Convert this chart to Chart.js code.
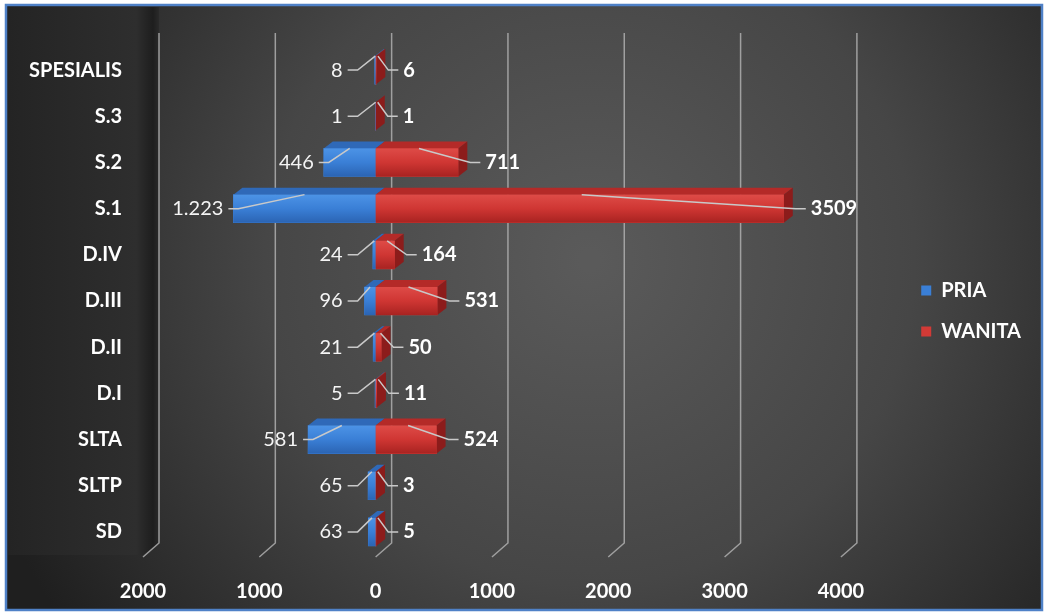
<!DOCTYPE html>
<html>
<head>
<meta charset="utf-8">
<script src="https://cdn.jsdelivr.net/npm/chart.js@4.4.1/dist/chart.umd.min.js"></script>
<style>
    html, body { margin: 0; padding: 0; background: #fff; }
    canvas { display: block; }
</style>
</head>
<body>
<canvas id="eduChart" width="1045" height="613"></canvas>
<script>
// data
const categories = ["SPESIALIS", "S.3", "S.2", "S.1", "D.IV", "D.III", "D.II", "D.I", "SLTA", "SLTP", "SD"];
const priaValues = [8, 1, 446, 1223, 24, 96, 21, 5, 581, 65, 63];
const wanitaValues = [6, 1, 711, 3509, 164, 531, 50, 11, 524, 3, 5];
const tickValues = [-2000, -1000, 0, 1000, 2000, 3000, 4000];
const seriesNames = ["PRIA", "WANITA"];

const DX = 9, DY = 7;       // 3d depth of bars
const WALL_DX = 16, WALL_DY = 12;

const fmtId = v => String(v).replace(/\B(?=(\d{3})+(?!\d))/g, ".");

const backgroundPlugin = {
    id: "panelBg",
    beforeDraw(chart) {
        const c = chart.ctx;
        const W = chart.width, H = chart.height;
        c.save();
        c.fillStyle = "#fff";
        c.fillRect(0, 0, W, H);

        const g = c.createRadialGradient(590, 260, 10, 590, 260, 640);
        g.addColorStop(0, "#5a5a5a");
        g.addColorStop(0.5, "#464646");
        g.addColorStop(1, "#1f1f1f");
        c.fillStyle = g;
        c.fillRect(7, 6, W - 11, H - 10);

        // left side wall
        const xs = chart.scales.x;
        const area = chart.chartArea;
        const wallX = xs.getPixelForValue(tickValues[0]) + WALL_DX;
        const wg = c.createLinearGradient(8, 0, wallX, 0);
        wg.addColorStop(0, "#242424");
        wg.addColorStop(0.85, "#2e2e2e");
        wg.addColorStop(0.96, "#1e1e1e");
        wg.addColorStop(1, "#2a2a2a");
        c.fillStyle = wg;
        c.beginPath();
        c.moveTo(8, 7);
        c.lineTo(wallX, 7);
        c.lineTo(wallX, area.bottom - WALL_DY);
        c.lineTo(wallX - WALL_DX, area.bottom);
        c.lineTo(8, area.bottom);
        c.closePath();
        c.fill();

        c.strokeStyle = "#4f81c7";
        c.lineWidth = 2.5;
        c.strokeRect(6, 5, W - 9, H - 8);
        c.restore();
    }
};

const gridPlugin = {
    id: "wallGrid",
    beforeDatasetsDraw(chart) {
        const c = chart.ctx;
        const xs = chart.scales.x;
        const bottom = chart.chartArea.bottom;
        c.save();
        c.strokeStyle = "rgba(175,175,175,0.85)";
        c.lineWidth = 1.5;
        tickValues.forEach(v => {
            const fx = xs.getPixelForValue(v);
            c.beginPath();
            c.moveTo(fx + WALL_DX, 33);
            c.lineTo(fx + WALL_DX, bottom - WALL_DY);
            c.lineTo(fx, bottom + 2);
            c.stroke();
        });
        c.restore();
    }
};

function frontGrad(c, top, bottom, stops) {
    const g = c.createLinearGradient(0, top, 0, bottom);
    g.addColorStop(0, stops[0]);
    g.addColorStop(0.5, stops[1]);
    g.addColorStop(1, stops[2]);
    return g;
}

const barsPlugin = {
    id: "bars3d",
    afterDatasetsDraw(chart) {
        const c = chart.ctx;
        const blue = chart.getDatasetMeta(0).data;
        const red = chart.getDatasetMeta(1).data;
        c.save();
        for (let i = categories.length - 1; i >= 0; i--) {
            const b = blue[i], r = red[i];
            const top = b.y - b.height / 2, bot = b.y + b.height / 2;
            const left = b.x, zero = b.base, right = r.x;

            // top faces
            c.fillStyle = "#2f69b8";
            c.beginPath();
            c.moveTo(left, top); c.lineTo(zero, top);
            c.lineTo(zero + DX, top - DY); c.lineTo(left + DX, top - DY);
            c.closePath(); c.fill();
            c.fillStyle = "#b42a28";
            c.beginPath();
            c.moveTo(zero, top); c.lineTo(right, top);
            c.lineTo(right + DX, top - DY); c.lineTo(zero + DX, top - DY);
            c.closePath(); c.fill();

            // side face at the red end
            c.fillStyle = "#8c1c1b";
            c.beginPath();
            c.moveTo(right, top); c.lineTo(right + DX, top - DY);
            c.lineTo(right + DX, bot - DY); c.lineTo(right, bot);
            c.closePath(); c.fill();

            // front faces
            c.fillStyle = frontGrad(c, top, bot, ["#4c93e6", "#3a7fd6", "#2b64b3"]);
            c.fillRect(left, top, zero - left, bot - top);
            c.fillStyle = frontGrad(c, top, bot, ["#de4b47", "#cf3633", "#a82321"]);
            c.fillRect(zero, top, right - zero, bot - top);
        }
        c.restore();
    }
};

const labelsPlugin = {
    id: "leaderLabels",
    afterDatasetsDraw(chart) {
        const c = chart.ctx;
        const blue = chart.getDatasetMeta(0).data;
        const red = chart.getDatasetMeta(1).data;
        c.save();
        c.strokeStyle = "#c9c9c9";
        c.lineWidth = 1.5;
        c.textBaseline = "middle";
        for (let i = 0; i < categories.length; i++) {
            const b = blue[i], r = red[i];
            const y = b.y;
            const top = b.y - b.height / 2;
            const zero = b.base;

            // PRIA on the left
            const lr = Math.min(b.x - 10, zero - 33);
            const tx = b.x + (zero - b.x) / 2;
            c.beginPath();
            c.moveTo(lr + 5, y);
            c.lineTo(lr + 15, y);
            c.lineTo(tx, top);
            c.stroke();
            c.font = "20px Lato";
            c.fillStyle = "#f4f4f4";
            c.textAlign = "right";
            c.fillText(fmtId(priaValues[i]), lr, y);

            // WANITA on the right
            const ll = Math.max(r.x + DX + 18, zero + 22);
            const rx = zero + (r.x - zero) / 2 + 2;
            c.beginPath();
            c.moveTo(rx, top);
            c.lineTo(ll - 15, y);
            c.lineTo(ll - 5, y);
            c.stroke();
            c.font = "bold 20px Lato";
            c.fillStyle = "#ffffff";
            c.textAlign = "left";
            c.fillText(String(wanitaValues[i]), ll, y);
        }
        c.restore();
    }
};

const ctx = document.getElementById("eduChart").getContext("2d");

new Chart(ctx, {
    type: "bar",
    data: {
        labels: categories,
        datasets: [{
            label: seriesNames[0],
            data: priaValues.map(v => -v),
            backgroundColor: "#3a7fd6",
            barThickness: 28
        }, {
            label: seriesNames[1],
            data: wanitaValues,
            backgroundColor: "#d23a36",
            barThickness: 28
        }]
    },
    options: {
        indexAxis: "y",
        responsive: false,
        animation: false,
        layout: { padding: { left: 10, top: 47, bottom: 10, right: 14 } },
        plugins: {
            tooltip: { enabled: false },
            legend: {
                position: "right",
                align: "start",
                title: { display: true, text: "", font: { size: 12 }, padding: { top: 198, bottom: 0 } },
                labels: {
                    color: "#ffffff",
                    font: { family: "Lato", size: 20, weight: "bold" },
                    usePointStyle: true,
                    pointStyle: "rect",
                    boxWidth: 10,
                    boxHeight: 10,
                    padding: 21
                }
            }
        },
        scales: {
            x: {
                stacked: true,
                min: -2000,
                max: 4510,
                afterBuildTicks: s => { s.ticks = tickValues.map(v => ({ value: v })); },
                afterFit: s => { s.height = 48; },
                grid: { display: false },
                border: { display: false },
                ticks: {
                    color: "#ffffff",
                    font: { family: "Lato", size: 20, weight: "bold" },
                    padding: 17,
                    maxRotation: 0,
                    callback: v => Math.abs(v)
                }
            },
            y: {
                stacked: true,
                afterFit: s => { s.width = 133; },
                grid: { display: false },
                border: { display: false },
                ticks: {
                    color: "#ffffff",
                    font: { family: "Lato", size: 20, weight: "bold" },
                    padding: 13
                }
            }
        }
    },
    plugins: [backgroundPlugin, gridPlugin, barsPlugin, labelsPlugin]
});
</script>
</body>
</html>
